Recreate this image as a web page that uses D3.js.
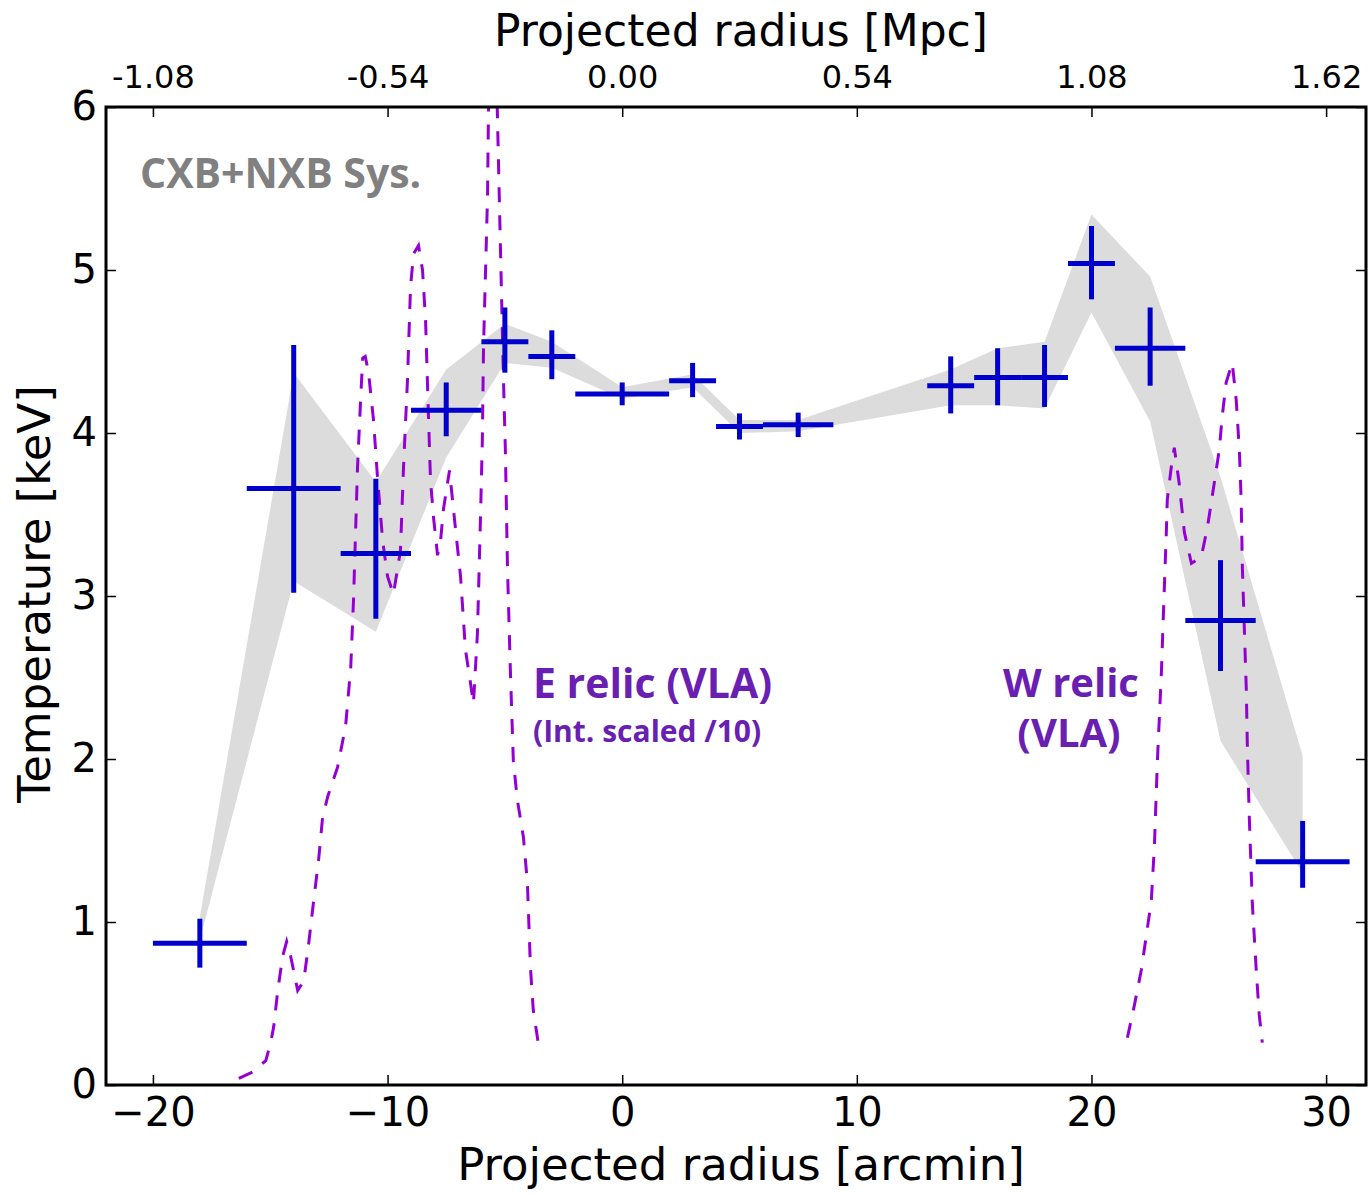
<!DOCTYPE html>
<html><head><meta charset="utf-8">
<script src="https://cdn.jsdelivr.net/npm/d3@7"></script>
<style>body{margin:0;background:#fff} svg{display:block}</style>
</head><body>
<svg id="chart" width="1369" height="1194"></svg>
<script>
// ---- data (arcmin, keV) ----
const radius      = [-18, -14, -10.5, -7.5, -5, -3, 0, 3, 5, 7.5, 14, 16, 18, 20, 22.5, 25.5, 29];
const radiusErr   = [2, 2, 1.5, 1.5, 1, 1, 2, 1, 1, 1.5, 1, 1, 1, 1, 1.5, 1.5, 2];
const temperature = [0.87, 3.66, 3.26, 4.14, 4.56, 4.47, 4.24, 4.32, 4.04, 4.05, 4.29, 4.34, 4.34, 5.04, 4.52, 2.85, 1.37];
const tempErrUp   = [0.15, 0.88, 0.46, 0.17, 0.21, 0.16, 0.07, 0.11, 0.08, 0.075, 0.18, 0.18, 0.2, 0.23, 0.25, 0.37, 0.25];
const tempErrLo   = [0.15, 0.64, 0.40, 0.16, 0.19, 0.14, 0.07, 0.10, 0.08, 0.075, 0.17, 0.17, 0.18, 0.22, 0.23, 0.31, 0.16];
const sysUpper    = [1.03, 4.37, 3.70, 4.39, 4.67, 4.56, 4.28, 4.36, 4.08, 4.08, 4.39, 4.52, 4.56, 5.34, 4.96, 3.73, 2.02];
const sysLower    = [0.89, 3.09, 2.78, 3.85, 4.43, 4.40, 4.21, 4.28, 4.00, 4.01, 4.17, 4.17, 4.15, 4.74, 4.07, 2.11, 1.30];

const eRelicX = [-16.34,-15.74,-15.19,-14.98,-14.85,-14.68,-14.47,-14.30,-14.13,-13.83,-13.57,-13.36,-13.15,-12.94,-12.77,-12.55,-12.13,-11.79,-11.57,-11.45,-11.28,-11.15,-11.06,-10.95,-10.81,-10.60,-10.43,-10.21,-10.00,-9.75,-9.45,-9.32,-9.15,-9.02,-8.89,-8.68,-8.51,-8.38,-8.26,-8.17,-8.04,-7.87,-7.74,-7.62,-7.36,-7.19,-6.89,-6.68,-6.47,-6.34,-6.17,-6.04,-5.96,-5.91,-5.74,-5.70,-5.51,-5.32,-5.19,-5.06,-4.98,-4.89,-4.77,-4.64,-4.47,-4.21,-4.04,-3.91,-3.79,-3.57];
const eRelicI = [0.04,0.08,0.15,0.26,0.36,0.58,0.79,0.88,0.79,0.58,0.64,0.87,1.13,1.38,1.64,1.77,1.95,2.20,2.56,2.98,3.79,4.20,4.46,4.47,4.37,4.08,3.73,3.34,3.12,3.01,3.28,3.79,4.33,4.90,5.10,5.15,5.00,4.69,4.12,3.71,3.48,3.25,3.34,3.53,3.77,3.53,3.12,2.67,2.47,2.34,2.77,3.48,3.96,4.53,5.45,5.96,7.20,5.96,5.14,4.33,3.90,3.18,2.56,1.99,1.75,1.52,1.24,0.72,0.46,0.25];
const wRelicX = [21.53,21.83,22.13,22.34,22.55,22.68,22.81,22.98,23.11,23.19,23.23,23.40,23.53,23.74,23.96,24.26,24.68,24.94,25.23,25.45,25.57,25.74,26.00,26.17,26.30,26.38,26.43,26.60,26.64,26.72,26.85,27.02,27.15,27.28];
const wRelicI = [0.29,0.49,0.71,0.92,1.13,1.46,1.99,2.53,3.07,3.39,3.59,3.79,3.91,3.69,3.39,3.20,3.24,3.42,3.69,3.90,4.10,4.31,4.43,4.20,3.90,3.59,3.18,2.42,2.10,1.67,1.13,0.71,0.43,0.26];

const xTicks = [-20, -10, 0, 10, 20, 30];
const yTicks = [0, 1, 2, 3, 4, 5, 6];
const arcminToMpc = 0.054;

// ---- layout ----
const L = 106, R = 1366, T = 107, B = 1085;
const svg = d3.select("#chart");
const x = d3.scaleLinear().domain([-22, 31.7]).range([L, R]);
const y = d3.scaleLinear().domain([0, 6]).range([B, T]);

svg.append("defs").append("clipPath").attr("id", "plotclip")
  .append("rect").attr("x", L).attr("y", T).attr("width", R - L).attr("height", B - T);

const pts = radius.map((r, i) => ({r, dr: radiusErr[i], t: temperature[i], up: tempErrUp[i], lo: tempErrLo[i], su: sysUpper[i], sl: sysLower[i]}));

// systematic band
svg.append("path").datum(pts)
  .attr("d", d3.area().x(d => x(d.r)).y0(d => y(d.sl)).y1(d => y(d.su)))
  .attr("fill", "#dcdcdc").attr("stroke", "none");

// relic profiles
const line = d3.line().x(d => x(d[0])).y(d => y(d[1]));
const relics = svg.append("g").attr("clip-path", "url(#plotclip)");
[[eRelicX, eRelicI], [wRelicX, wRelicI]].forEach(([xs, is]) => {
  relics.append("path").datum(xs.map((v, i) => [v, is[i]]))
    .attr("d", line).attr("fill", "none").attr("stroke", "#9400d3")
    .attr("stroke-width", 3).attr("stroke-dasharray", "15,13");
});

// error crosses
const cross = svg.append("g").attr("stroke", "#0000cc").attr("stroke-width", 5);
pts.forEach(d => {
  cross.append("line").attr("x1", x(d.r - d.dr)).attr("x2", x(d.r + d.dr)).attr("y1", y(d.t)).attr("y2", y(d.t));
  cross.append("line").attr("x1", x(d.r)).attr("x2", x(d.r)).attr("y1", y(d.t - d.lo)).attr("y2", y(d.t + d.up));
});

// axes
const tickFont = "'DejaVu Sans', sans-serif";
const fmtMinus = d => d < 0 ? "\u2212" + Math.abs(d) : String(d);
function styleAxis(g, size) {
  g.select(".domain").remove();
  g.selectAll(".tick line").attr("stroke", "#000").attr("stroke-width", 1.5);
  g.selectAll(".tick text").attr("font-family", tickFont).attr("font-size", size).attr("fill", "#000");
}
svg.append("g").attr("transform", `translate(0,${B})`)
  .call(d3.axisBottom(x).tickValues(xTicks).tickSizeInner(-10).tickSizeOuter(0).tickPadding(13).tickFormat(fmtMinus))
  .call(g => styleAxis(g, 40));
svg.append("g").attr("transform", `translate(0,${T})`)
  .call(d3.axisTop(x).tickValues(xTicks).tickSizeInner(-10).tickSizeOuter(0).tickPadding(19).tickFormat(d => (d * arcminToMpc).toFixed(2)))
  .call(g => styleAxis(g, 32));
svg.append("g").attr("transform", `translate(${L},0)`)
  .call(d3.axisLeft(y).tickValues(yTicks).tickSizeInner(-10).tickSizeOuter(0).tickPadding(9).tickFormat(d => String(d)))
  .call(g => styleAxis(g, 40));
svg.append("g").attr("transform", `translate(${R},0)`)
  .call(d3.axisRight(y).tickValues(yTicks).tickSizeInner(-10).tickSizeOuter(0).tickFormat(""))
  .call(g => styleAxis(g, 40));

// frame
svg.append("rect").attr("x", L).attr("y", T).attr("width", R - L).attr("height", B - T)
  .attr("fill", "none").attr("stroke", "#000").attr("stroke-width", 3);

// titles
svg.append("text").attr("x", 741).attr("y", 1180).attr("text-anchor", "middle")
  .attr("font-family", tickFont).attr("font-size", 45).text("Projected radius [arcmin]");
svg.append("text").attr("x", 741).attr("y", 46).attr("text-anchor", "middle")
  .attr("font-family", tickFont).attr("font-size", 44).text("Projected radius [Mpc]");
svg.append("text").attr("transform", "translate(50,594) rotate(-90)").attr("text-anchor", "middle")
  .attr("font-family", tickFont).attr("font-size", 45).text("Temperature [keV]");

// annotations
const annFont = "'Open Sans', sans-serif";
svg.append("text").attr("x", 140).attr("y", 188).attr("font-family", annFont).attr("font-weight", 700)
  .attr("font-size", 41).attr("fill", "#808080").text("CXB+NXB Sys.");
const purple = "#6a1fb3";
const eLab = svg.append("text").attr("font-family", annFont).attr("font-weight", 700).attr("fill", purple);
eLab.append("tspan").attr("x", 533).attr("y", 698).attr("font-size", 41).text("E relic (VLA)");
eLab.append("tspan").attr("x", 533).attr("y", 742).attr("font-size", 30).text("(Int. scaled /10)");
const wLab = svg.append("text").attr("font-family", annFont).attr("font-weight", 700).attr("fill", purple)
  .attr("text-anchor", "middle").attr("font-size", 40);
wLab.append("tspan").attr("x", 1071).attr("y", 697).text("W relic");
wLab.append("tspan").attr("x", 1069).attr("y", 747).text("(VLA)");
</script>
</body></html>
